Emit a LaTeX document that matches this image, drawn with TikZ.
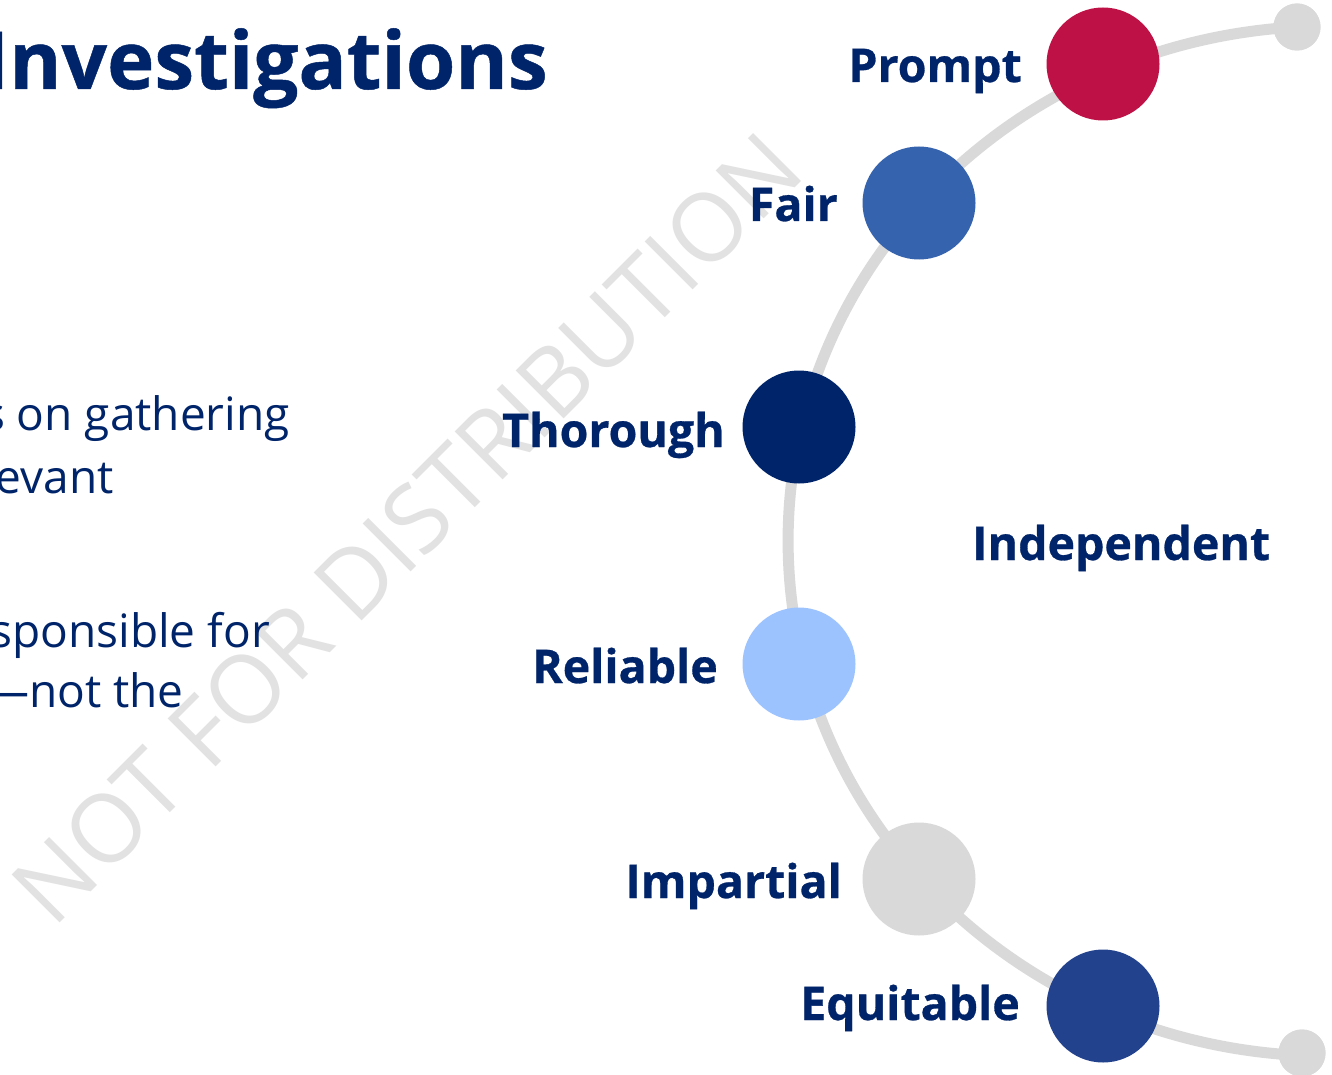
\documentclass[tikz,border=0pt]{standalone}
\usepackage{fontspec}
\setmainfont{Open Sans}
\newfontfamily\heavyfont{Open Sans}[BoldFeatures={FakeBold=0.6}]
\definecolor{navy}{HTML}{002469}
\definecolor{crimson}{HTML}{BE1146}
\definecolor{fairblue}{HTML}{3563AE}
\definecolor{lightblue}{HTML}{9DC3FF}
\definecolor{arcgray}{HTML}{D9D9D9}
\definecolor{eqblue}{HTML}{23428E}
\definecolor{wmgray}{HTML}{E2E2E2}
\tikzset{
  dot/.style={circle, minimum size=113pt, inner sep=0pt, draw=none},
  enddot/.style={circle, fill=arcgray, minimum size=47pt, inner sep=0pt},
  lbl/.style={font=\heavyfont\bfseries\fontsize{46.5}{50}\selectfont, text=navy, anchor=base east, inner sep=0pt},
  body/.style={font=\fontsize{46}{50}\selectfont, text=navy, anchor=base east, inner sep=0pt},
  arcline/.style={draw=arcgray, line width=11pt}
}
\begin{document}
\begin{tikzpicture}[x=1pt,y=-1pt]
\useasboundingbox (0,0) rectangle (1332,1075);
\clip (0,0) rectangle (1332,1075);
\fill[white] (0,0) rectangle (1332,1075);
% watermark
\node[rotate=45, text=wmgray, font=\fontsize{95}{95}\selectfont, inner sep=0pt] (wm) at (407,528) {NOT FOR DISTRIBUTION};
% title
\node[font=\heavyfont\bfseries\fontsize{80}{84}\selectfont, text=navy, anchor=base east, inner sep=0pt] (title) at (548,89) {Investigations};
% body text
\node[body] (b1) at (290,430) {s on gathering};
\node[body] (b2) at (114,493) {evant};
\node[body] (b3) at (270,647) {sponsible for};
\node[body] (b4) at (184,707) {—not the};
% end dots
\node[enddot] (etop) at (1297,27) {};
\node[enddot] (ebot) at (1302,1053) {};
% connector: elliptical arc from top end dot to bottom end dot
\draw[arcline] (etop.center) arc[start angle=266.7, end angle=92.8, x radius=540, y radius=515];
\node[enddot] at (etop) {};
\node[enddot] at (ebot) {};
% circles
\node[dot, fill=crimson] (prompt) at (1103,64) {};
\node[dot, fill=fairblue] (fair) at (919,203) {};
\node[dot, fill=navy] (thorough) at (799,427) {};
\node[dot, fill=lightblue] (reliable) at (799,664) {};
\node[dot, fill=arcgray] (impartial) at (919,879) {};
\node[dot, fill=eqblue] (equitable) at (1103,1006) {};
% labels
\node[lbl] (lprompt) at (1022,82) {Prompt};
\node[lbl] (lfair) at (838,221) {Fair};
\node[lbl] (lthor) at (725,447) {Thorough};
\node[lbl, anchor=base west] (lind) at (972,560) {Independent};
\node[lbl] (lrel) at (718,683) {Reliable};
\node[lbl] (limp) at (842,898) {Impartial};
\node[lbl] (lequ) at (1020,1020) {Equitable};
\end{tikzpicture}
\end{document}
